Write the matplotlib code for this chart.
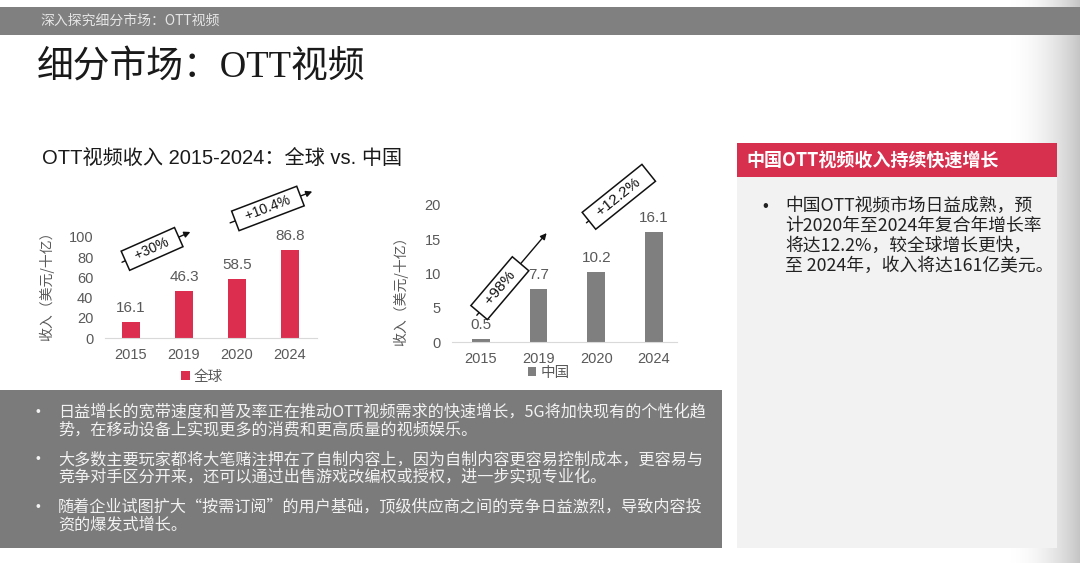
import numpy as np
import matplotlib
matplotlib.use('Agg')
import matplotlib.pyplot as plt
from matplotlib.patches import Rectangle

# data
years = ['2015', '2019', '2020', '2024']
global_rev = [16.1, 46.3, 58.5, 86.8]
china_rev = [0.5, 7.7, 10.2, 16.1]
global_growth = ['+30%', '+10.4%']
china_growth = ['+98%', '+12.2%']

header = '深入探究细分市场：OTT视频'
title = '细分市场：OTT视频'
subtitle = 'OTT视频收入 2015-2024：全球 vs. 中国'
ylabel = '收入（美元/十亿）'
panel_title = '中国OTT视频收入持续快速增长'
panel_lines = ['中国OTT视频市场日益成熟，预',
               '计2020年至2024年复合年增长率',
               '将达12.2%，较全球增长更快，',
               '至 2024年，收入将达161亿美元。']
bottom_items = [
    ['日益增长的宽带速度和普及率正在推动OTT视频需求的快速增长，5G将加快现有的个性化趋',
     '势，在移动设备上实现更多的消费和更高质量的视频娱乐。'],
    ['大多数主要玩家都将大笔赌注押在了自制内容上，因为自制内容更容易控制成本，更容易与',
     '竞争对手区分开来，还可以通过出售游戏改编权或授权，进一步实现专业化。'],
    ['随着企业试图扩大“按需订阅”的用户基础，顶级供应商之间的竞争日益激烈，导致内容投',
     '资的爆发式增长。'],
]

plt.rcParams['font.family'] = ['Liberation Sans', 'Noto Sans CJK SC', 'DejaVu Sans']
CJK = ['Noto Sans CJK SC', 'DejaVu Sans']
GREY = '#595959'

W, H = 1080, 563
fig = plt.figure(figsize=(W / 100, H / 100), dpi=100)


def fx(x):
    return x / W


def fy(y):
    return 1 - y / H


# shadow on the right edge
gax = fig.add_axes([fx(1005), 0, fx(75), 1])
gax.axis('off')
grad = np.zeros((1, 100, 4))
grad[..., :3] = 0.70
grad[..., 3] = np.linspace(0, 1, 100) ** 2 * 0.75
gax.imshow(grad, aspect='auto', extent=[0, 1, 0, 1])

# background blocks
fig.patches.append(Rectangle((0, fy(35)), 1, 28 / H, transform=fig.transFigure,
                             fc='#808080', ec='none', zorder=1))
fig.patches.append(Rectangle((fx(737), fy(548)), fx(320), (548 - 143) / H,
                             transform=fig.transFigure, fc='#f2f2f2', ec='none', zorder=1))
fig.patches.append(Rectangle((fx(737), fy(177)), fx(320), 34 / H,
                             transform=fig.transFigure, fc='#d7304f', ec='none', zorder=1))
fig.patches.append(Rectangle((0, fy(548)), fx(722), 158 / H,
                             transform=fig.transFigure, fc='#7b7b7b', ec='none', zorder=1))

fig.text(fx(40), fy(21), header, color='#e6e6e6', fontsize=10, va='center', family=CJK)
fig.text(fx(37), fy(68), title, color='#1a1a1a', fontsize=26.5, va='center',
         family=['Liberation Serif', 'Noto Sans CJK SC'])
fig.text(fx(42), fy(158), subtitle, color='#1a1a1a', fontsize=14.5, va='center')


def style(ax):
    for s in ['top', 'right', 'left']:
        ax.spines[s].set_visible(False)
    ax.spines['bottom'].set_color('#d9d9d9')
    ax.tick_params(length=0, labelsize=10.5, labelcolor=GREY)
    ax.tick_params(axis='y', pad=8)
    ax.tick_params(axis='x', pad=7)
    ax.patch.set_alpha(0)


def growth(ax, start, end, t, label, size):
    ax.annotate('', xy=end, xytext=start, annotation_clip=False,
                arrowprops=dict(arrowstyle='-|>', color='#111111', lw=1.0,
                                mutation_scale=9, shrinkA=0, shrinkB=0))
    p0 = ax.transData.transform(start)
    p1 = ax.transData.transform(end)
    ang = np.degrees(np.arctan2(p1[1] - p0[1], p1[0] - p0[0]))
    cx = start[0] + t * (end[0] - start[0])
    cy = start[1] + t * (end[1] - start[1])
    ax.text(cx, cy, '  ' + label + '  ', rotation=ang, rotation_mode='anchor',
            ha='center', va='center', fontsize=size, color='#111111', zorder=5,
            clip_on=False,
            bbox=dict(boxstyle='square,pad=0.25', fc='white', ec='#111111', lw=1.1))


x = np.arange(len(years))

# global chart
ax1 = fig.add_axes([fx(104.5), fy(338), fx(212), 101 / H])
b1 = ax1.bar(x, global_rev, width=0.34, color='#dc2f50', label='全球')
ax1.set_xlim(-0.5, 3.5)
ax1.set_ylim(0, 100)
ax1.set_yticks(range(0, 101, 20))
ax1.set_xticks(x, years)
style(ax1)
ax1.bar_label(b1, labels=[f'{v:.1f}' for v in global_rev], padding=5,
              fontsize=11, color=GREY)
ax1.legend(loc='center', bbox_to_anchor=(0.46, -0.386), frameon=False,
           handlelength=0.6, handleheight=0.6, handletextpad=0.3,
           labelcolor=GREY, prop=dict(family=CJK, size=10.5))
growth(ax1, (-0.17, 75), (1.12, 105), 0.44, global_growth[0], 10)
growth(ax1, (1.87, 114), (3.42, 145), 0.46, global_growth[1], 10)
fig.text(fx(47), fy(283), ylabel, rotation=90, ha='center', va='center',
         fontsize=10, color=GREY, family=CJK)

# china chart
ax2 = fig.add_axes([fx(452), fy(342), fx(225), 137 / H])
b2 = ax2.bar(x, china_rev, width=0.31, color='#7f7f7f', label='中国')
ax2.set_xlim(-0.5, 3.4)
ax2.set_ylim(0, 20)
ax2.set_yticks(range(0, 21, 5))
ax2.set_xticks(x, years)
style(ax2)
ax2.bar_label(b2, labels=[f'{v:.1f}' for v in china_rev], padding=5,
              fontsize=11, color=GREY)
ax2.legend(loc='center', bbox_to_anchor=(0.43, -0.226), frameon=False,
           handlelength=0.6, handleheight=0.6, handletextpad=0.3,
           labelcolor=GREY, prop=dict(family=CJK, size=10.5))
growth(ax2, (-0.07, 3.9), (1.14, 15.9), 0.33, china_growth[0], 11)
growth(ax2, (1.83, 17.4), (2.91, 24.7), 0.52, china_growth[1], 11)
fig.text(fx(401), fy(288), ylabel, rotation=90, ha='center', va='center',
         fontsize=10, color=GREY, family=CJK)

# right panel
fig.text(fx(746), fy(161), panel_title, color='white', fontsize=13,
         fontweight='bold', va='center', family=CJK)
fig.text(fx(762), fy(206), '•', color='#222222', fontsize=12, va='center')
for i, line in enumerate(panel_lines):
    fig.text(fx(785), fy(206 + 20 * i), line, color='#222222', fontsize=12.8,
             va='center', family=CJK)

# bottom box
for i, item in enumerate(bottom_items):
    y0 = 412 + i * 47.5
    fig.text(fx(36), fy(y0), '•', color='#f2f2f2', fontsize=10, va='center')
    for j, line in enumerate(item):
        fig.text(fx(58), fy(y0 + j * 18), line, color='#f2f2f2', fontsize=11.6,
                 va='center', family=CJK)

fig.savefig('out.png', dpi=100)
